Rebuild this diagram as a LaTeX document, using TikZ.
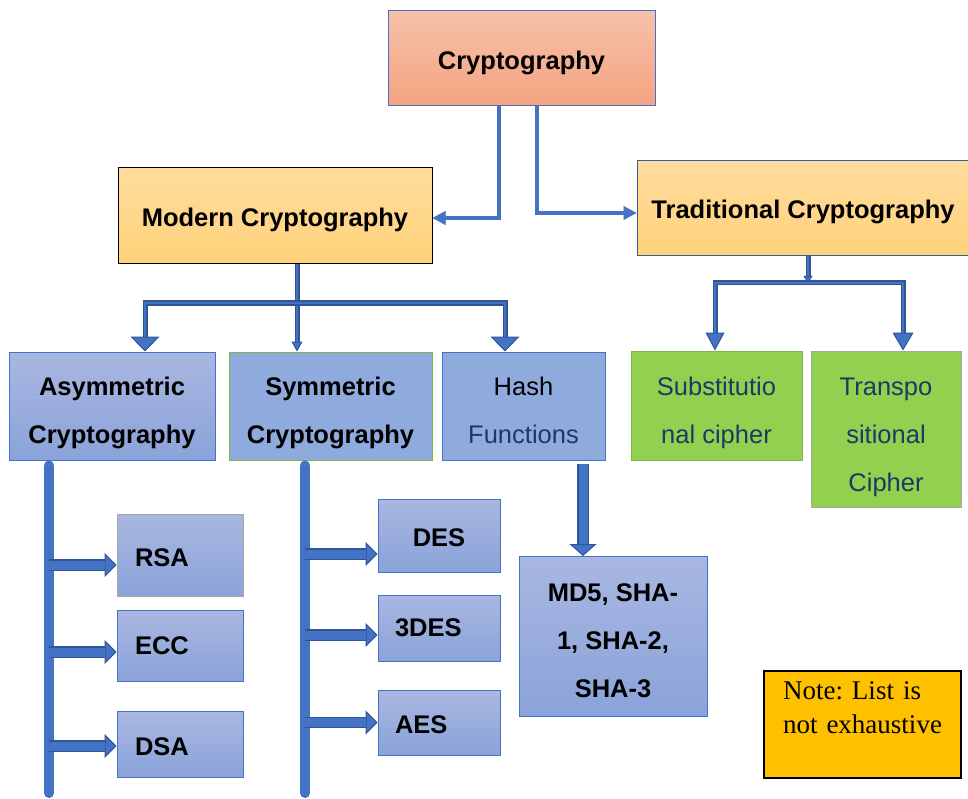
\documentclass[tikz,border=0pt]{standalone}
\usepackage{fontspec}
\setmainfont{Liberation Sans}
\newfontfamily\notefont{Liberation Serif}
\usetikzlibrary{arrows.meta}

\definecolor{linkblue}{HTML}{4472C4}
\definecolor{deepblue}{HTML}{2F5597}
\definecolor{peachtop}{HTML}{F7C1A9}
\definecolor{peachbot}{HTML}{F4A381}
\definecolor{goldtop}{HTML}{FFDC9E}
\definecolor{goldbot}{HTML}{FFD27A}
\definecolor{skytop}{HTML}{A9B7E1}
\definecolor{skybot}{HTML}{8AA3D9}
\definecolor{skyflat}{HTML}{8FAADC}
\definecolor{leaf}{HTML}{92D050}
\definecolor{leafedge}{HTML}{7AB648}
\definecolor{greyedge}{HTML}{A6A6A6}
\definecolor{navytext}{HTML}{1F3864}
\definecolor{noteyellow}{HTML}{FFC000}

% zero-width strut: raises the first line's height so the text block sits lower
\newcommand\lowr[1]{\rule{0pt}{#1pt}}

\begin{document}
\frenchspacing
\begin{tikzpicture}[x=1pt,y=-1pt,
  wh/.style 2 args={minimum width=#1pt, minimum height=#2pt},
  drop/.style={execute at begin node={\lowr{#1}}},
  box/.style={rectangle, inner sep=0pt, align=center, line width=1pt,
              font=\fontsize{25.5}{48}\selectfont\bfseries},
  peachbox/.style={box, top color=peachtop, bottom color=peachbot, draw=linkblue},
  goldbox/.style={box, top color=goldtop, bottom color=goldbot},
  skybox/.style={box, top color=skytop, bottom color=skybot, draw=linkblue},
  flatbox/.style={box, fill=skyflat},
  leafbox/.style={box, fill=leaf, text=navytext, font=\fontsize{25.5}{48}\selectfont},
  leftset/.style={inner xsep=#1pt, align=left},
  notebox/.style={rectangle, fill=noteyellow, draw=black, line width=1.2pt,
                  inner xsep=19pt, inner ysep=0pt, align=left,
                  font=\notefont\fontsize{27}{34}\selectfont},
  thinlink/.style={draw=linkblue, line width=4pt,
                   -{Triangle[length=13pt,width=14pt,line width=0.5pt]}},
  branch/.style 2 args={draw=linkblue, line width=2pt, shorten >=#1pt,
                   preaction={draw=deepblue, line width=5pt, shorten >=0pt,
                   -{Triangle[length=#1pt,width=#2pt,line width=1pt,fill=linkblue]}}},
  blockarrow/.style 2 args={draw=linkblue, line width=9pt, shorten >=#1pt,
                   preaction={draw=deepblue, line width=11.5pt, shorten >=0pt,
                   -{Triangle[length=#1pt,width=#2pt,line width=1pt,fill=linkblue]}}},
  bar/.style={draw=linkblue, line width=10pt, line cap=round, shorten <=5pt}
]
\useasboundingbox (0,0) rectangle (968,799);

% top level
\node[peachbox, wh={267}{95}, drop=27] (crypto) at (521.5,58.5) {Cryptography};
\node[goldbox, draw=black, wh={314}{96}, drop=28] (modern) at (275,215.5) {Modern Cryptography};
\node[goldbox, draw=linkblue!80!black, wh={332}{95}, drop=27] (trad) at (803,208) {Traditional Cryptography};

% modern families
\node[skybox, wh={206}{108}] (asym) at (112,406) {\lowr{33}Asymmetric\\Cryptography};
\node[flatbox, draw=leafedge, wh={203}{108}] (sym) at (330.5,406) {\lowr{33}Symmetric\\Cryptography};
\node[flatbox, draw=linkblue, wh={163}{108}, font=\fontsize{25.5}{48}\selectfont] (hash) at (523.5,406)
  {\lowr{28}Hash\\{\color{navytext}Functions}};

% traditional families
\node[leafbox, draw=leafedge, wh={171}{109}] (subst) at (716.5,405.5) {\lowr{34}Substitutio\\nal cipher};
\node[leafbox, draw=greyedge, wh={150}{156}] (trans) at (886,429) {\lowr{34}Transpo\\sitional\\Cipher};

% asymmetric algorithms
\node[skybox, draw=greyedge, wh={126}{82}, leftset=18, text width=90pt, drop=22.5] (rsa) at (180,555.5) {RSA};
\node[skybox, wh={126}{71}, leftset=18, text width=90pt] (ecc) at (180,645.5) {ECC};
\node[skybox, wh={126}{66}, leftset=18, text width=90pt, drop=22.5] (dsa) at (180,744) {DSA};

% symmetric algorithms
\node[skybox, wh={122}{73}, drop=22.5] (des) at (439,535.5) {DES};
\node[skybox, wh={122}{66}, leftset=17, text width=88pt] (tdes) at (439,628) {3DES};
\node[skybox, wh={122}{65}, leftset=17, text width=88pt, drop=22.5] (aes) at (439,722.5) {AES};

% hash algorithms
\node[skybox, wh={188}{160}] (md5) at (613,636.5) {\lowr{25.5}MD5, SHA-\\1, SHA-2,\\SHA-3};

% remark
\node[notebox, wh={197}{107}, text width=159pt] (note) at (862.5,724.5)
  {Note: List is\\not exhaustive\\\mbox{}};

% root connectors
\draw[thinlink] ([xshift=-22.5pt]crypto.south) |- ([yshift=-2.5pt]modern.east);
\draw[thinlink] ([xshift=15.5pt]crypto.south) |- ([yshift=-5pt]trad.west);

% modern branches
\coordinate (mj) at (297,303);
\draw[branch={10}{11}] (modern.south -| mj) -- (sym.north -| mj);
\draw[branch={15}{29}] (mj) -| ([xshift=33pt]asym.north);
\draw[branch={15}{29}] (mj) -| ([xshift=-18.5pt]hash.north);

% traditional branches
\coordinate (tj) at (808,283);
\draw[branch={7}{9}] (trad.south -| tj) -- (tj);
\draw[branch={18}{19}] (tj) -| ([xshift=-1.5pt]subst.north);
\draw[branch={18}{21}] (tj) -| ([xshift=17pt]trans.north);

% algorithm rails
\coordinate (arail) at (49,793);
\coordinate (srail) at (305,793);
\draw[bar] (asym.south -| arail) -- (arail);
\draw[bar] (sym.south -| srail) -- (srail);

\draw[blockarrow={12}{24}] ([yshift=-9.5pt]rsa.west -| arail) -- ([yshift=-9.5pt]rsa.west);
\draw[blockarrow={12}{24}] ([yshift=-6.5pt]ecc.west -| arail) -- ([yshift=-6.5pt]ecc.west);
\draw[blockarrow={12}{24}] ([yshift=-2pt]dsa.west -| arail) -- ([yshift=-2pt]dsa.west);
\draw[blockarrow={12}{24}] ([yshift=-18.5pt]des.west -| srail) -- ([yshift=-18.5pt]des.west);
\draw[blockarrow={12}{24}] ([yshift=-7pt]tdes.west -| srail) -- ([yshift=-7pt]tdes.west);
\draw[blockarrow={12}{24}] (aes.west -| srail) -- (aes.west);

% hash to algorithms
\coordinate (hrail) at (583,0);
\draw[blockarrow={12}{27}] ([yshift=-3pt]hash.south -| hrail) -- (md5.north -| hrail);
\end{tikzpicture}
\end{document}
